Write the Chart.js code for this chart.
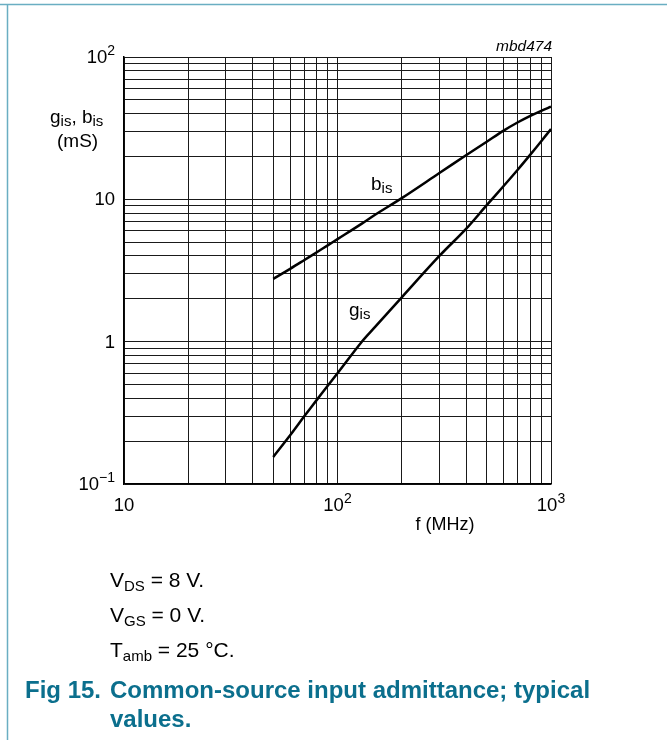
<!DOCTYPE html>
<html>
<head>
<meta charset="utf-8">
<script src="https://cdn.jsdelivr.net/npm/chart.js@4/dist/chart.umd.min.js"></script>
<style>
  html, body { margin: 0; padding: 0; background: #fff; }
  #chart { display: block; }
</style>
</head>
<body>
<canvas id="chart" width="667" height="740"></canvas>
<script>
// frequency points (MHz)
const freqs = [50, 60, 70, 80, 90, 100, 130, 150, 200, 300, 400, 500, 600, 700, 800, 900, 1000];
// b_is, input susceptance (mS)
const bisValues = [2.76, 3.25, 3.75, 4.25, 4.75, 5.25, 6.75, 7.8, 10.2, 15.3, 20.4, 25.4, 30.4, 34.8, 38.6, 41.9, 44.8];
// g_is, input conductance (mS)
const gisValues = [0.155, 0.22, 0.30, 0.39, 0.49, 0.60, 1.0, 1.27, 2.05, 4.0, 6.2, 9.1, 12.4, 16.2, 20.6, 25.6, 31.2];

// grid lines (log decades with 2..9 subdivisions)
const xGrid = [10, 20, 30, 40, 50, 60, 70, 80, 90, 100, 200, 300, 400, 500, 600, 700, 800, 900, 1000];
const yGrid = [0.1, 0.2, 0.3, 0.4, 0.5, 0.6, 0.7, 0.8, 0.9, 1, 2, 3, 4, 5, 6, 7, 8, 9, 10, 20, 30, 40, 50, 60, 70, 80, 90, 100];

// tick labels: value, mantissa text, exponent text
const xTickLabels = [[10, '10', ''], [100, '10', '2'], [1000, '10', '3']];
const yTickLabels = [[100, '10', '2'], [10, '10', ''], [1, '1', ''], [0.1, '10', '\u22121']];

const FONT = '"Liberation Sans", Arial, sans-serif';
const TEAL = '#0b6f8d';

function toPoints(xs, ys) {
    return xs.map((x, i) => ({ x, y: ys[i] }));
}

// draws a run of text pieces, each {t, size, dy, style}
function drawRich(ctx, parts, x, y, align) {
    let total = 0;
    parts.forEach(p => {
        ctx.font = (p.style || '') + ' ' + p.size + 'px ' + FONT;
        p.w = ctx.measureText(p.t).width;
        total += p.w;
    });
    let cx = x;
    if (align === 'right') cx = x - total;
    else if (align === 'center') cx = x - total / 2;
    ctx.textAlign = 'left';
    ctx.textBaseline = 'alphabetic';
    parts.forEach(p => {
        ctx.font = (p.style || '') + ' ' + p.size + 'px ' + FONT;
        ctx.fillText(p.t, cx, y + (p.dy || 0));
        cx += p.w;
    });
}

const textPlugin = {
    id: 'textPlugin',
    afterDraw(chart) {
        const ctx = chart.ctx;
        const xs = chart.scales.x;
        const ys = chart.scales.y;
        ctx.save();

        // page frame
        ctx.strokeStyle = '#6aaec2';
        ctx.lineWidth = 1.5;
        ctx.beginPath();
        ctx.moveTo(0, 4.5);
        ctx.lineTo(667, 4.5);
        ctx.moveTo(7.5, 4.5);
        ctx.lineTo(7.5, 740);
        ctx.stroke();

        ctx.fillStyle = '#000';

        // x tick labels
        xTickLabels.forEach(([v, base, exp]) => {
            const px = xs.getPixelForValue(v);
            const parts = [{ t: base, size: 18.5 }];
            if (exp) parts.push({ t: exp, size: 14, dy: -8 });
            drawRich(ctx, parts, px, 511, 'center');
        });

        // y tick labels
        yTickLabels.forEach(([v, base, exp]) => {
            const py = ys.getPixelForValue(v);
            const parts = [{ t: base, size: 18.5 }];
            if (exp) parts.push({ t: exp, size: 14, dy: -8 });
            drawRich(ctx, parts, 115, py + 6, 'right');
        });

        // axis titles
        drawRich(ctx, [{ t: 'f (MHz)', size: 18 }], 445, 530, 'center');
        drawRich(ctx, [
            { t: 'g', size: 19 }, { t: 'is', size: 15, dy: 3 },
            { t: ', b', size: 19 }, { t: 'is', size: 15, dy: 3 }
        ], 50, 123, 'left');
        drawRich(ctx, [{ t: '(mS)', size: 19 }], 57, 147, 'left');

        // figure code
        drawRich(ctx, [{ t: 'mbd474', size: 15.5, style: 'italic' }], 552, 51, 'right');

        // curve labels
        drawRich(ctx, [{ t: 'b', size: 19 }, { t: 'is', size: 15, dy: 3 }], 371, 190, 'left');
        drawRich(ctx, [{ t: 'g', size: 19 }, { t: 'is', size: 15, dy: 3 }], 349, 316, 'left');

        // conditions
        drawRich(ctx, [{ t: 'V', size: 21 }, { t: 'DS', size: 15, dy: 4 }, { t: ' = 8 V.', size: 21 }], 110, 587, 'left');
        drawRich(ctx, [{ t: 'V', size: 21 }, { t: 'GS', size: 15, dy: 4 }, { t: ' = 0 V.', size: 21 }], 110, 622, 'left');
        drawRich(ctx, [{ t: 'T', size: 21 }, { t: 'amb', size: 15, dy: 4 }, { t: ' = 25 \u00b0C.', size: 21 }], 110, 657, 'left');

        // caption
        ctx.fillStyle = TEAL;
        drawRich(ctx, [{ t: 'Fig 15.', size: 24, style: 'bold' }], 25, 698, 'left');
        drawRich(ctx, [{ t: 'Common-source input admittance; typical', size: 24, style: 'bold' }], 110, 698, 'left');
        drawRich(ctx, [{ t: 'values.', size: 24, style: 'bold' }], 110, 727, 'left');

        ctx.restore();
    }
};

function gridScale(values, min, max) {
    return {
        type: 'logarithmic',
        min,
        max,
        afterBuildTicks: scale => {
            scale.ticks = values.map(v => ({ value: v }));
        },
        ticks: { display: false },
        grid: { color: '#1a1a1a', lineWidth: 1, drawTicks: false },
        border: { display: true, color: '#000', width: 1.5 }
    };
}

new Chart(document.getElementById('chart'), {
    type: 'line',
    data: {
        datasets: [
            {
                label: 'bis',
                data: toPoints(freqs, bisValues),
                borderColor: '#000',
                borderWidth: 2.5,
                pointRadius: 0,
                tension: 0.35,
                fill: false
            },
            {
                label: 'gis',
                data: toPoints(freqs, gisValues),
                borderColor: '#000',
                borderWidth: 2.5,
                pointRadius: 0,
                tension: 0.35,
                fill: false
            }
        ]
    },
    options: {
        responsive: false,
        animation: false,
        layout: { padding: { left: 124, right: 116, top: 57, bottom: 256 } },
        scales: {
            x: gridScale(xGrid, 10, 1000),
            y: gridScale(yGrid, 0.1, 100)
        },
        plugins: {
            legend: { display: false },
            tooltip: { enabled: false }
        }
    },
    plugins: [textPlugin]
});
</script>
</body>
</html>
